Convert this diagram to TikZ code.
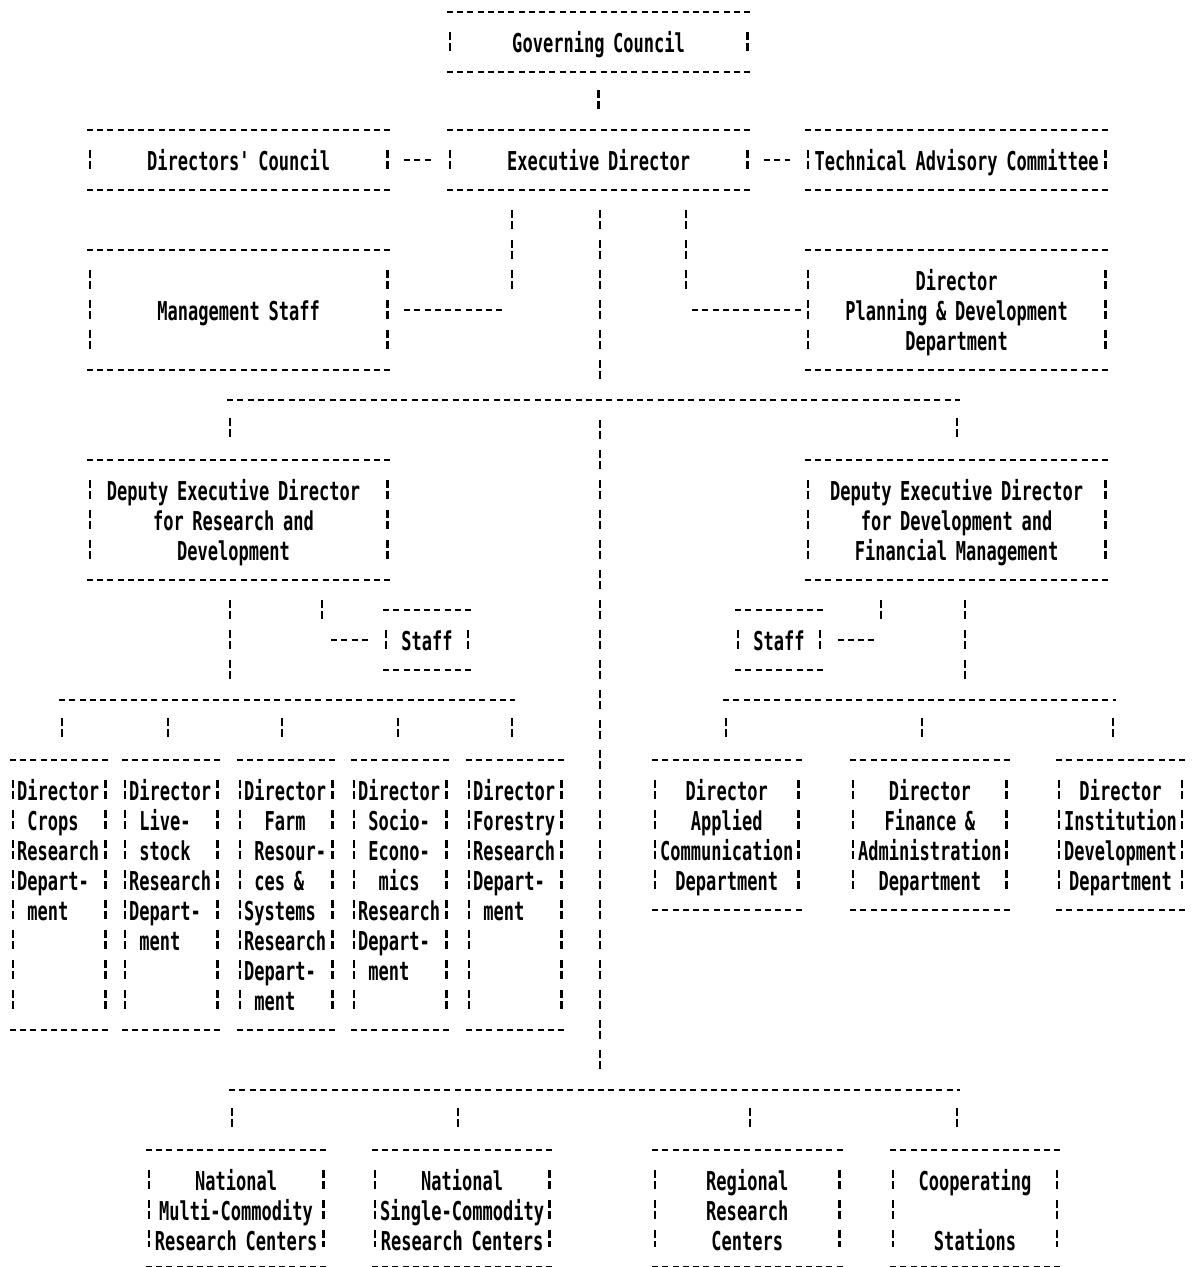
\documentclass[tikz,border=0pt]{standalone}
\usepackage{fontspec}
\newfontfamily\dotfamily[FakeStretch=0.655]{DejaVu Sans Mono}
\newcommand{\dotfont}{\dotfamily\bfseries\fontsize{26}{30}\selectfont}
\newcommand{\blank}{\phantom{x}}
\hyphenpenalty=10000

\tikzset{
  hdash/.style = {line width=2.8pt, dash pattern=on 6pt off 4.25pt},
  vdash/.style = {line width=2.6pt, dash pattern=on 8pt off 3pt on 8pt off 11pt},
  drop/.style = {vdash, shorten <=18pt, shorten >=18pt},
  riser/.style = {vdash, shorten <=20pt, shorten >=20pt},
  bus/.style = {hdash, shorten <=-3pt, shorten >=-3pt},
  link/.style = {hdash, shorten <=14pt, shorten >=15pt},
  boxchars/.code = {\pgfmathsetmacro\boxwd{(#1-1)*10.25+6}\pgfmathsetmacro\textwd{(#1-2)*10.25+2}%
    \tikzset{minimum width/.expanded=\boxwd pt, text width/.expanded=\textwd pt}},
  boxrows/.code = {\pgfmathsetmacro\boxdp{30*(#1+1)-40}\tikzset{text depth/.expanded=\boxdp pt}},
  box/.style = {inner sep=0pt, outer sep=0pt, align=center, font=\dotfont, text height=40pt,
    append after command={
      (\tikzlastnode.north west) edge[hdash] (\tikzlastnode.north east)
      (\tikzlastnode.south west) edge[hdash] (\tikzlastnode.south east)
      ([shift={(3pt,-20pt)}]\tikzlastnode.north west) edge[vdash] ([shift={(3pt,20pt)}]\tikzlastnode.south west)
      ([shift={(-3pt,-20pt)}]\tikzlastnode.north east) edge[vdash] ([shift={(-3pt,20pt)}]\tikzlastnode.south east)}},
  dirbox/.style = {box, align=left, boxchars=10, boxrows=8},
  deptbox/.style = {box, boxrows=4},
  centrebox/.style = {box, boxchars=18, boxrows=3, text depth=77pt}
}

\begin{document}
\begin{tikzpicture}[x=1pt, y=-1pt]
\useasboundingbox (0,0) rectangle (1195,1267);

% top of the chart
\node[box, boxchars=30, boxrows=1] (gc) at (598.6,42) {Governing Council};
\node[box, boxchars=30, boxrows=1] (dc) at (238.6,160) {Directors' Council};
\node[box, boxchars=30, boxrows=1] (ed) at (598.6,160) {Executive Director};
\node[box, boxchars=30, boxrows=1] (tac) at (956.6,160) {Technical Advisory Committee};
\node[box, boxchars=30, boxrows=3] (ms) at (238.6,310) {\mbox{}\\Management Staff};
\node[box, boxchars=30, boxrows=3] (dpd) at (956.6,310) {Director\\Planning \& Development\\Department};

% deputies and their staff
\node[box, boxchars=30, boxrows=3] (derd) at (238.6,520) {Deputy Executive Director\blank\\for Research and\blank\\Development\blank};
\node[box, boxchars=30, boxrows=3] (dedf) at (956.6,520) {Deputy Executive Director\\for Development and\\Financial Management};
\node[box, boxchars=9, boxrows=1] (stl) at (427,640) {Staff};
\node[box, boxchars=9, boxrows=1] (str) at (779,640) {Staff};

% research departments
\node[dirbox] (crops) at (59.1,895) {Director\\\blank Crops\\Research\\Depart-\\\blank ment};
\node[dirbox] (stock) at (171.1,895) {Director\\\blank Live-\\\blank stock\\Research\\Depart-\\\blank ment};
\node[dirbox] (farm) at (286.1,895) {Director\\\blank\blank Farm\\\blank Resour-\\\blank ces \&\\Systems\\Research\\Depart-\\\blank ment};
\node[dirbox] (socio) at (400.1,895) {Director\\\blank Socio-\\\blank Econo-\\\blank\blank mics\\Research\\Depart-\\\blank ment};
\node[dirbox] (forest) at (515.1,895) {Director\\Forestry\\Research\\Depart-\\\blank ment};

% development departments
\node[deptbox, boxchars=15] (comm) at (726.75,835) {Director\\Applied\\Communication\\Department};
\node[deptbox, boxchars=16] (fin) at (929.9,835) {Director\\Finance \&\\Administration\\Department};
\node[deptbox, boxchars=13] (inst) at (1120.5,835) {Director\\Institution\\Development\\Department};

% centres and stations
\node[centrebox] (multi) at (236.1,1208.5) {National\\Multi-Commodity\\Research Centers};
\node[centrebox] (single) at (462.1,1208.5) {National\\Single-Commodity\\Research Centers};
\node[centrebox, boxchars=19] (reg) at (747.25,1208.5) {Regional\\Research\\Centers};
\node[centrebox, boxchars=17] (coop) at (975,1208.5) {Cooperating\\\mbox{}\\Stations};

% corners and bus points
\coordinate (msc) at (512,310);
\coordinate (dpc) at (686,310);
\coordinate (t1) at (600,400);
\coordinate (t2) at (600,1090);
\coordinate (j1) at (230,400);
\coordinate (j2) at (957,400);
\coordinate (sl) at (322,640);
\coordinate (sr) at (881,640);
\coordinate (k1) at (230,700);
\coordinate (k2) at (965,700);
\coordinate (b1) at (62,700);
\coordinate (b2) at (168,700);
\coordinate (b3) at (282,700);
\coordinate (b4) at (398,700);
\coordinate (b5) at (512,700);
\coordinate (c1) at (726,700);
\coordinate (c2) at (922,700);
\coordinate (c3) at (1113,700);
\coordinate (e1) at (232,1090);
\coordinate (e2) at (458,1090);
\coordinate (e3) at (750,1090);
\coordinate (e4) at (957,1090);

\draw [drop] (gc) -- (ed);
\draw [link] (dc) -- (ed);
\draw [link] (ed) -- (tac);
\draw [riser] (ed.south -| msc) -- (msc);
\draw [hdash, shorten <=14pt, shorten >=9pt] (ms) -- (msc);
\draw [riser] (ed.south -| dpc) -- (dpc);
\draw [hdash, shorten <=6pt, shorten >=4pt] (dpc) -- (dpd);
\draw [riser] (ed.south -| t1) -- (t1);
\draw [riser] (t1) -- (t2);

\draw [bus] (j1) -- (j2);
\draw [drop] (j1) -- (j1 |- derd.north);
\draw [drop] (j2) -- (j2 |- dedf.north);

\draw [riser] (derd.south -| sl) -- (sl);
\draw [hdash, shorten <=9pt, shorten >=15.5pt] (sl) -- (stl);
\draw [riser] (derd.south -| k1) -- (k1);
\draw [bus] (b1) -- (b5);
\draw [drop] (b1) -- (b1 |- crops.north);
\draw [drop] (b2) -- (b2 |- stock.north);
\draw [drop] (b3) -- (b3 |- farm.north);
\draw [drop] (b4) -- (b4 |- socio.north);
\draw [drop] (b5) -- (b5 |- forest.north);

\draw [riser] (dedf.south -| sr) -- (sr);
\draw [hdash, shorten <=14.5pt, shorten >=6.75pt] (str) -- (sr);
\draw [riser] (dedf.south -| k2) -- (k2);
\draw [bus] (c1) -- (c3);
\draw [drop] (c1) -- (c1 |- comm.north);
\draw [drop] (c2) -- (c2 |- fin.north);
\draw [drop] (c3) -- (c3 |- inst.north);

\draw [bus] (e1) -- (e4);
\draw [drop] (e1) -- (e1 |- multi.north);
\draw [drop] (e2) -- (e2 |- single.north);
\draw [drop] (e3) -- (e3 |- reg.north);
\draw [drop] (e4) -- (e4 |- coop.north);
\end{tikzpicture}
\end{document}
